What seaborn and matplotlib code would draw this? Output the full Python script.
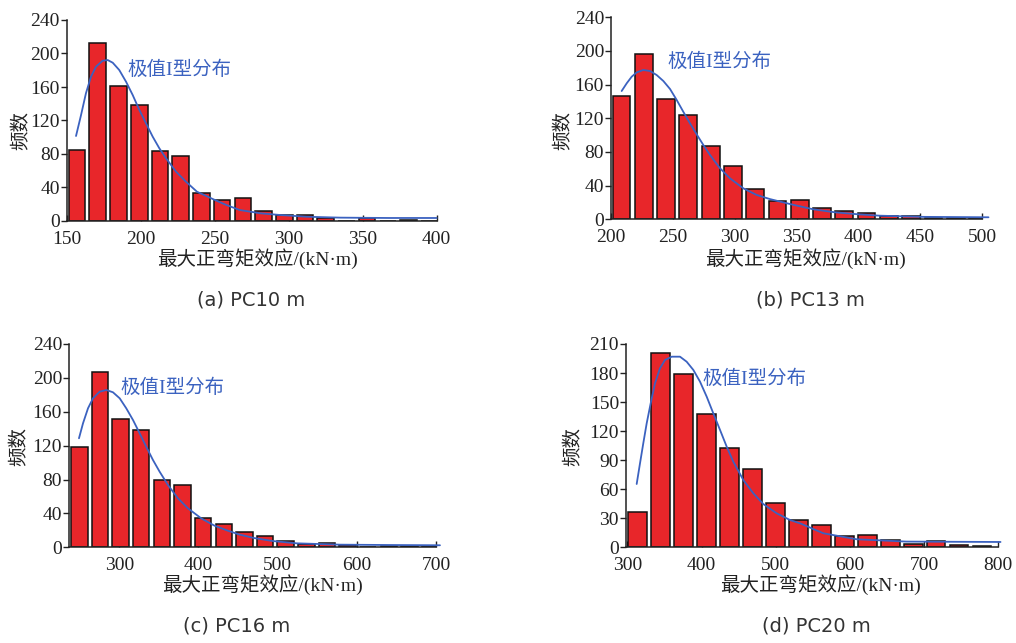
import numpy as np
import pandas as pd
import seaborn as sns
import matplotlib.pyplot as plt

# --- data ---------------------------------------------------------------
# (a) PC10 m
a_bins = [157, 171, 185, 199, 213, 227, 241, 255, 269, 283, 297, 311, 325, 339, 353, 367, 381, 395]
a_freq = [85, 213, 161, 139, 84, 78, 34, 25, 27, 12, 7, 7, 4, 0, 3, 0, 1, 0]
a_fit_x = [156.3, 159.7, 163, 166.4, 169.8, 174.3, 177.7, 181.1, 185.5, 190.1, 194.6, 199.1, 203.6, 208.1,
           212.6, 217.1, 223.9, 230.6, 238, 249, 258, 267, 281, 294, 312, 335, 368, 400]
a_fit_y = [101.5, 126.6, 152.5, 172.3, 184.3, 191.4, 192.2, 189, 180.3, 166.3, 150.4, 132.5, 116.6, 100.7,
           86.8, 74.9, 58.9, 46.9, 35, 26, 19, 13.1, 9.2, 7.2, 5.1, 4, 3.6, 3.6]

# (b) PC13 m
b_bins = [208.5, 226.5, 244.5, 262.5, 280.5, 298.5, 316.5, 334.5, 352.5, 370.5, 388.5, 406.5, 424.5,
          442.5, 460.5, 478.5, 496.5]
b_freq = [146, 196, 143, 124, 87, 63, 36, 22, 23, 13, 10, 7, 4, 4, 1, 1, 1]
b_fit_x = [208.6, 212.7, 216.7, 220.8, 226.1, 231.5, 236.9, 242.3, 247.7, 253.1, 258.4, 263.8, 269.2,
           274.6, 280, 288.1, 296.1, 306.9, 317.7, 328.5, 345, 363, 381, 400, 417, 452, 505]
b_fit_y = [152.4, 161.6, 169.4, 174.6, 177.4, 176.2, 171.4, 164.3, 154.8, 141.7, 127.8, 114.1, 101,
           88.3, 76.4, 60.6, 48.7, 36.8, 28.9, 24, 18, 12, 8.3, 5.9, 4.3, 2.9, 2.4]

# (c) PC16 m
c_bins = [249.6, 275.7, 301.7, 327.8, 353.8, 379.9, 405.9, 432.0, 458.0, 484.1, 510.1, 536.2, 562.2,
          588.3, 614.3, 640.4, 666.4, 692.5]
c_freq = [118, 207, 152, 139, 79, 74, 34, 28, 18, 13, 7, 4, 5, 3, 0, 1, 1, 1]
c_fit_x = [249.2, 254.3, 260.6, 266.9, 275.3, 283.7, 292.1, 300.6, 308.9, 317.4, 325.8, 334.1, 342.6,
           351, 361.5, 374.1, 386.8, 403.5, 420.4, 437.2, 452, 470, 494, 524, 579, 642, 705]
c_fit_y = [128.7, 146.4, 164.1, 175.9, 183.7, 185.7, 183, 175.9, 164.1, 150.3, 134.6, 118.8, 103.1,
           89.3, 73.6, 57.9, 46, 34.2, 25.5, 19.6, 15, 11, 7.4, 4.7, 3.1, 2.7, 2.4]

# (d) PC20 m
d_bins = [313.4, 344.4, 375.4, 406.4, 437.4, 468.4, 499.4, 530.4, 561.4, 592.4, 623.4, 654.4, 685.4,
          716.4, 747.4, 778.4]
d_freq = [36, 201, 179, 138, 103, 81, 46, 28, 23, 12, 13, 8, 3, 7, 2, 1]
d_fit_x = [312.4, 316.9, 321.3, 325.9, 331.3, 337.1, 343.8, 350.6, 359.6, 370.8, 379.8, 388.8, 397.8,
           406.8, 415.7, 424.8, 433.8, 442.7, 456.2, 469.7, 483.1, 501.2, 519.1, 532.6, 564, 609, 676, 803]
d_fit_y = [65.4, 86.8, 107.4, 128.1, 148.8, 169.4, 184.9, 193.5, 196.9, 196.9, 191.7, 183.2, 171.1,
           155.6, 138.4, 121.2, 103.9, 88.4, 69.5, 55.8, 44.7, 35.1, 28.2, 24.8, 14.5, 8.3, 5.9, 5.5]

captions = ["(a) PC10 m", "(b) PC13 m", "(c) PC16 m", "(d) PC20 m"]
xlabel = "最大正弯矩效应/(kN·m)"
ylabel = "频数"
fit_label = "极值I型分布"

# --- style ----------------------------------------------------------------
sns.set_theme(style="ticks")
plt.rcParams["font.family"] = ["Liberation Serif", "Noto Sans CJK SC"]
plt.rcParams["axes.linewidth"] = 1.1
plt.rcParams["axes.edgecolor"] = "#222222"

W, H = 1016, 643
fig = plt.figure(figsize=(W / 100, H / 100), dpi=100)


def fx(px):
    return px / W


def fy(py):
    return 1 - py / H


BAR_RED = "#e8262a"
FIT_BLUE = "#3b62c0"
TXT = "#222222"

panels = [
    # bins, freq, fit x, fit y, axes box (px: left, top, right, bottom), xlim, xticks, yticks, annot (x, y)
    (a_bins, a_freq, a_fit_x, a_fit_y, (66.7, 20, 436.7, 221), (150, 400), range(150, 401, 50),
     range(0, 241, 40), (191, 181)),
    (b_bins, b_freq, b_fit_x, b_fit_y, (611, 17.3, 982.3, 219.3), (200, 500), range(200, 501, 50),
     range(0, 241, 40), (246, 187)),
    (c_bins, c_freq, c_fit_x, c_fit_y, (69, 344, 436, 547.3), (236.6, 700), range(300, 701, 100),
     range(0, 241, 40), (301, 188)),
    (d_bins, d_freq, d_fit_x, d_fit_y, (626, 344, 998.3, 547.3), (298, 800), range(300, 801, 100),
     range(0, 211, 30), (401, 174)),
]

# label positions in pixels (centre)
xlabel_pos = [(257.5, 259), (805, 259), (262, 585), (820, 585)]
ylabel_pos = [(22, 130), (564, 130), (20, 447), (574, 447)]
caption_pos = [(251, 300), (810, 300), (237, 626), (816, 626)]

for i, (bins, freq, fit_x, fit_y, box, xlim, xt, yt, ann) in enumerate(panels):
    l, t, r, b = box
    ax = fig.add_axes([fx(l), fy(b), fx(r - l), (b - t) / H])
    df = pd.DataFrame({"m": bins, "n": freq})
    sns.barplot(data=df, x="m", y="n", native_scale=True, orient="x", width=0.8,
                color=BAR_RED, saturation=1, edgecolor="#111111", linewidth=1.1,
                errorbar=None, ax=ax)
    fit = pd.DataFrame({"m": fit_x, "n": fit_y})
    sns.lineplot(data=fit, x="m", y="n", sort=False, color=FIT_BLUE, linewidth=1.3,
                 ax=ax, clip_on=False, zorder=5)
    ax.text(ann[0], ann[1], fit_label, color=FIT_BLUE, fontsize=14, ha="left", va="center")

    ax.set_xlim(*xlim)
    ax.set_ylim(0, yt[-1])
    ax.set_xticks(list(xt))
    ax.set_yticks(list(yt))
    ax.set_xlabel("")
    ax.set_ylabel("")
    ax.tick_params(axis="x", direction="in", length=4, width=1, labelsize=14, pad=7, colors=TXT)
    ax.tick_params(axis="y", direction="out", length=4, width=1, labelsize=14, pad=1, colors=TXT)
    sns.despine(ax=ax)

    fig.text(fx(xlabel_pos[i][0]), fy(xlabel_pos[i][1]), xlabel, fontsize=14, color=TXT,
             ha="center", va="center")
    fig.text(fx(ylabel_pos[i][0]), fy(ylabel_pos[i][1]), ylabel, fontsize=14, color=TXT,
             ha="center", va="center", rotation=90)
    fig.text(fx(caption_pos[i][0]), fy(caption_pos[i][1]), captions[i], fontsize=14, color="#333333",
             ha="center", va="center", family="DejaVu Sans")

fig.savefig("out.png", dpi=100)
